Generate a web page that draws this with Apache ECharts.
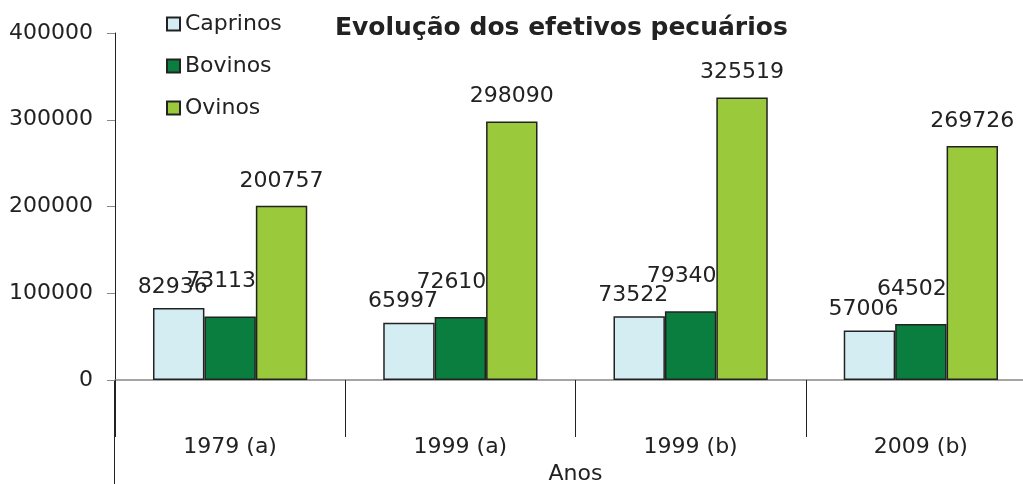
<!DOCTYPE html>
<html><head><meta charset="utf-8">
<script src="https://cdn.jsdelivr.net/npm/echarts@6/dist/echarts.min.js"></script>
<style>html,body{margin:0;padding:0;background:#fff}#c{width:1023px;height:484px}</style>
</head><body><div id="c"></div>
<script>
const categories = ['1979 (a)', '1999 (a)', '1999 (b)', '2009 (b)'];
const caprinos = [82936, 65997, 73522, 57006];
const bovinos = [73113, 72610, 79340, 64502];
const ovinos = [200757, 298090, 325519, 269726];
const seriesNames = ['Caprinos', 'Bovinos', 'Ovinos'];

const chart = echarts.init(document.getElementById('c'));
const font = 'DejaVu Sans, sans-serif';
const lbl = (dist, dx) => ({show: true, position: 'top', distance: dist, offset: [dx, 0], fontSize: 22, color: '#222', fontFamily: font});
const border = {borderColor: '#222', borderWidth: 1.5};
chart.setOption({
  animation: false,
  textStyle: {fontFamily: font},
  title: {text: 'Evolução dos efetivos pecuários', left: 330, top: 11,
    textStyle: {fontSize: 25, fontWeight: 'bold', color: '#222', fontFamily: font}},
  legend: {orient: 'vertical', left: 161, top: 8, itemWidth: 13, itemHeight: 13, itemGap: 20, itemTextGap: 11,
    icon: 'rect',
    textStyle: {fontSize: 22, color: '#222', fontFamily: font}, data: seriesNames},
  grid: {left: 115, right: -13, top: 33, bottom: 104, containLabel: false, outerBoundsMode: 'none'},
  xAxis: {type: 'category', data: categories, name: 'Anos', nameLocation: 'middle', nameGap: 78,
    nameTextStyle: {fontSize: 22, color: '#222'},
    axisLine: {lineStyle: {color: '#888', width: 1.5}},
    axisTick: {show: true, length: 57, lineStyle: {color: '#222', width: 1}},
    axisLabel: {fontSize: 22, color: '#222', margin: 56}},
  yAxis: {type: 'value', min: 0, max: 400000, interval: 100000,
    axisLine: {show: true, lineStyle: {color: '#222', width: 1}},
    axisTick: {show: true, length: 8, lineStyle: {color: '#888'}},
    splitLine: {show: false},
    axisLabel: {fontSize: 22, color: '#222', margin: 22, formatter: v => String(v)}},
  graphic: [{type: 'line', shape: {x1: 114.5, y1: 380, x2: 114.5, y2: 484}, style: {stroke: '#222', lineWidth: 1}}],
  series: [
    {name: seriesNames[0], type: 'bar', data: caprinos, barCategoryGap: '33%', barGap: '0%',
      itemStyle: Object.assign({color: '#D3EDF3'}, border), label: lbl(10, -6)},
    {name: seriesNames[1], type: 'bar', data: bovinos,
      itemStyle: Object.assign({color: '#0A7E3E'}, border), label: lbl(24, -9)},
    {name: seriesNames[2], type: 'bar', data: ovinos,
      itemStyle: Object.assign({color: '#9ACA3C'}, border), label: lbl(14, 0)}
  ]
});
</script></body></html>
